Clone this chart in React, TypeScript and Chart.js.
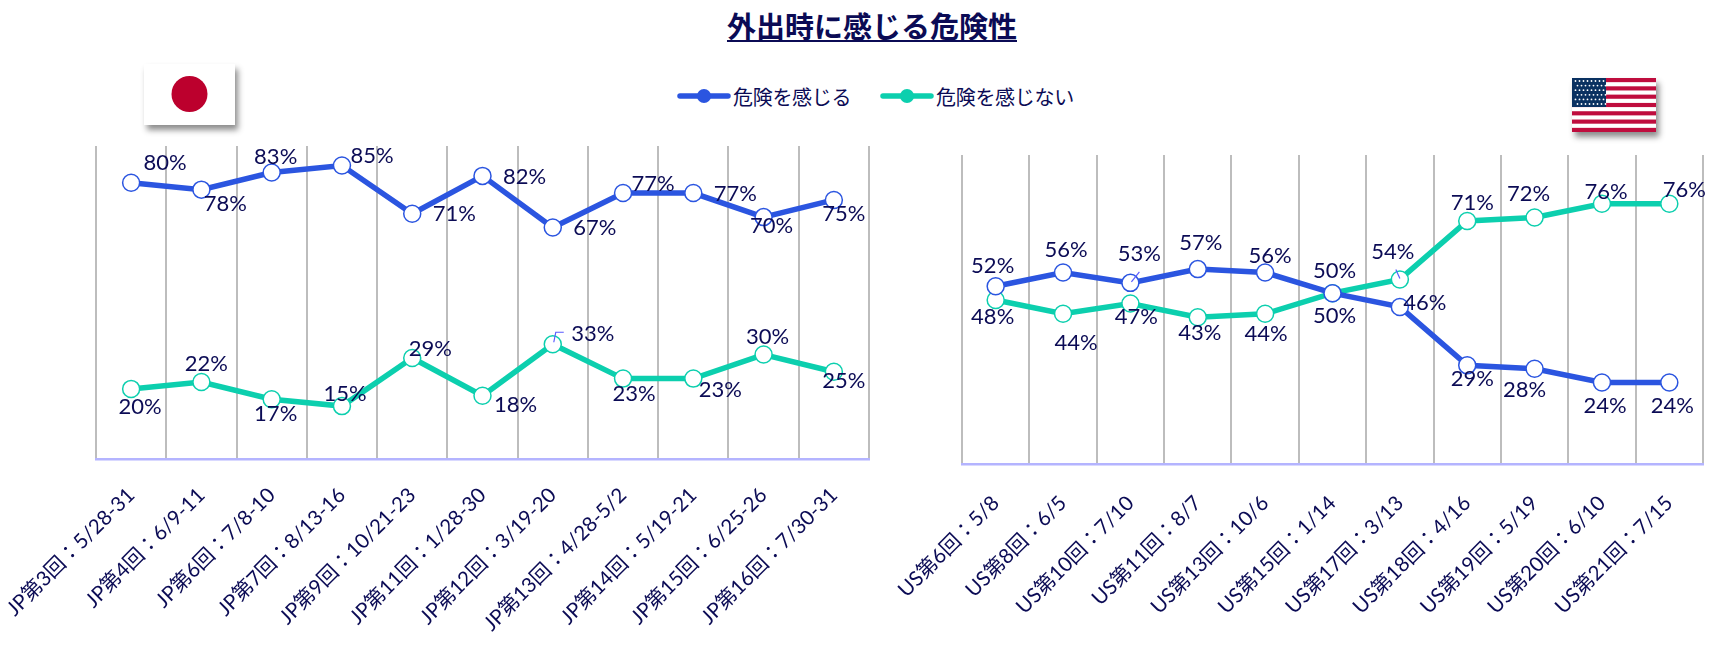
import { useEffect, useRef } from "react";
import { Chart, Plugin, registerables } from "chart.js";

Chart.register(...registerables);

const TEXT = "#0b0b55";
const BLUE = "#2b55e0";
const GREEN = "#0ccfae";
const FONT = 'Lato, "Noto Sans CJK JP", sans-serif';

const seriesNames = ["危険を感じる", "危険を感じない"];

const jpRounds = [
  "JP第3回：5/28-31",
  "JP第4回：6/9-11",
  "JP第6回：7/8-10",
  "JP第7回：8/13-16",
  "JP第9回：10/21-23",
  "JP第11回：1/28-30",
  "JP第12回：3/19-20",
  "JP第13回：4/28-5/2",
  "JP第14回：5/19-21",
  "JP第15回：6/25-26",
  "JP第16回：7/30-31",
];
const jpDanger = [80, 78, 83, 85, 71, 82, 67, 77, 77, 70, 75];
const jpSafe = [20, 22, 17, 15, 29, 18, 33, 23, 23, 30, 25];

const usRounds = [
  "US第6回：5/8",
  "US第8回：6/5",
  "US第10回：7/10",
  "US第11回：8/7",
  "US第13回：10/6",
  "US第15回：1/14",
  "US第17回：3/13",
  "US第18回：4/16",
  "US第19回：5/19",
  "US第20回：6/10",
  "US第21回：7/15",
];
const usDanger = [52, 56, 53, 57, 56, 50, 46, 29, 28, 24, 24];
const usSafe = [48, 44, 47, 43, 44, 50, 54, 71, 72, 76, 76];

// where each value label sits relative to its point [dx, dy]
const jpDangerOffsets = [[34, -20], [24, 14], [4, -16], [30, -10], [42, 0], [42, 1], [42, 0], [30, -9], [42, 1], [8, 9], [10, 14]];
const jpSafeOffsets = [[9, 18], [5, -18], [4, 15], [3, -12], [18, -9], [33, 9], [40, -10], [11, 15], [27, 11], [4, -18], [10, 9]];
const usDangerOffsets = [[-3, -20], [3, -23], [9, -29], [3, -26], [5, -17], [2, -22], [25, -4], [5, 14], [-10, 21], [3, 23], [3, 23]];
const usSafeOffsets = [[-3, 17], [13, 29], [6, 13], [2, 16], [1, 20], [2, 23], [-7, -28], [5, -18], [-6, -24], [4, -12], [15, -14]];

// small leader lines: [dataset, point, polyline relative to the point]
const jpLeaders = [[1, 6, [[1, -2], [3, -12], [11, -12]]]];
const usLeaders = [
  [0, 2, [[1, -1], [9, -11]]],
  [1, 6, [[-4, -10], [0, -1]]],
];

const valueLabels: Plugin<"line"> = {
  id: "valueLabels",
  afterDatasetsDraw(chart, _args, opts: any) {
    const { ctx } = chart;
    ctx.save();
    ctx.strokeStyle = "#5a5aff";
    ctx.lineWidth = 1.2;
    opts.leaders.forEach(([ds, idx, pts]: any) => {
      const p = chart.getDatasetMeta(ds).data[idx];
      ctx.beginPath();
      pts.forEach(([dx, dy]: number[], i: number) => {
        if (i === 0) ctx.moveTo(p.x + dx, p.y + dy);
        else ctx.lineTo(p.x + dx, p.y + dy);
      });
      ctx.stroke();
    });
    ctx.font = "22px " + FONT;
    ctx.fillStyle = TEXT;
    ctx.textAlign = "center";
    ctx.textBaseline = "middle";
    chart.data.datasets.forEach((ds, i) => {
      chart.getDatasetMeta(i).data.forEach((p, j) => {
        const [dx, dy] = opts.offsets[i][j];
        ctx.fillText(ds.data[j] + "%", p.x + dx, p.y + dy);
      });
    });
    ctx.restore();
  },
};

interface PanelProps {
  rounds: string[];
  danger: number[];
  safe: number[];
  offsets: number[][][];
  leaders: any[];
  left: number;
  width: number;
  padLeft: number;
  padRight: number;
  padTop: number;
  axisHeight: number;
  tickGap: number;
  yMin: number;
  yMax: number;
}

function Panel(props: PanelProps) {
  const ref = useRef<HTMLCanvasElement | null>(null);

  useEffect(() => {
    if (!ref.current) return;
    const line = (label: string, data: number[], color: string) => ({
      label,
      data,
      borderColor: color,
      borderWidth: 5.5,
      pointRadius: 8.5,
      pointBorderWidth: 1.5,
      pointBackgroundColor: "#ffffff",
      pointBorderColor: color,
      tension: 0,
    });
    const chart = new Chart(ref.current, {
      type: "line",
      data: {
        labels: props.rounds,
        datasets: [
          line(seriesNames[0], props.danger, BLUE),
          line(seriesNames[1], props.safe, GREEN),
        ],
      },
      plugins: [valueLabels],
      options: {
        responsive: false,
        animation: false,
        devicePixelRatio: 1,
        layout: {
          padding: { left: props.padLeft, right: props.padRight, top: props.padTop, bottom: 0 },
        },
        plugins: {
          legend: { display: false },
          title: { display: false },
          tooltip: { enabled: false },
          valueLabels: { offsets: props.offsets, leaders: props.leaders },
        } as any,
        scales: {
          x: {
            offset: true,
            grid: { color: "#bdbdbd", lineWidth: 2, drawTicks: false, offset: true },
            border: { color: "#b4b4ff", width: 2.5 },
            ticks: {
              color: TEXT,
              font: { family: FONT, size: 20.5 },
              minRotation: 45,
              maxRotation: 45,
              autoSkip: false,
              padding: props.tickGap,
            },
            afterFit: (s: any) => {
              s.height = props.axisHeight;
              s.paddingLeft = 0;
              s.paddingRight = 0;
            },
          },
          y: { display: false, min: props.yMin, max: props.yMax },
        },
      },
    });
    return () => {
      chart.destroy();
    };
  }, []);

  return (
    <canvas
      ref={ref}
      width={props.width}
      height={516}
      style={{ position: "absolute", left: props.left, top: 130, width: props.width, height: 516 }}
    />
  );
}

function LegendItem({ name, color, x }: { name: string; color: string; x: number }) {
  return (
    <div style={{ position: "absolute", left: x, top: 80, height: 32, display: "flex", alignItems: "center" }}>
      <svg width={54} height={16} style={{ marginRight: 2 }}>
        <line x1={3} y1={8} x2={51} y2={8} stroke={color} strokeWidth={5.5} strokeLinecap="round" />
        <circle cx={27} cy={8} r={7} fill={color} />
      </svg>
      <span style={{ fontSize: 20, color: TEXT, letterSpacing: -0.3, whiteSpace: "nowrap" }}>{name}</span>
    </div>
  );
}

function JapanFlag() {
  return (
    <svg width={91} height={61} style={{ position: "absolute", left: 144, top: 64, boxShadow: "3px 5px 6px rgba(0,0,0,0.45)" }}>
      <rect width={91} height={61} fill="#ffffff" />
      <circle cx={45.5} cy={30} r={18} fill="#bc002d" />
    </svg>
  );
}

function UsFlag() {
  const stripes = [0, 1, 2, 3, 4, 5, 6];
  const h = 54 / 13;
  const dots: number[][] = [];
  for (let r = 0; r < 6; r++) {
    for (let c = 0; c < 8; c++) dots.push([3.5 + c * 4 + (r % 2) * 2, 3 + r * 4.6]);
  }
  return (
    <svg width={84} height={54} style={{ position: "absolute", left: 1572, top: 78, boxShadow: "3px 5px 6px rgba(0,0,0,0.45)" }}>
      <rect width={84} height={54} fill="#ffffff" />
      {stripes.map((i) => (
        <rect key={i} y={i * 2 * h} width={84} height={h} fill="#bf0d3e" />
      ))}
      <rect width={34} height={29} fill="#0a3161" />
      {dots.map(([x, y], i) => (
        <circle key={i} cx={x} cy={y} r={0.9} fill="#ffffff" />
      ))}
    </svg>
  );
}

export default function App() {
  useEffect(() => {
    document.body.style.margin = "0";
  }, []);

  return (
    <div style={{ position: "relative", width: 1722, height: 646, overflow: "hidden", background: "#ffffff", fontFamily: FONT }}>
      <div
        style={{
          position: "absolute",
          left: 726,
          top: 4,
          width: 292,
          textAlign: "center",
          fontSize: 29,
          fontWeight: 700,
          color: TEXT,
          whiteSpace: "nowrap",
          textDecoration: "underline",
        }}
      >
        外出時に感じる危険性
      </div>
      <JapanFlag />
      <UsFlag />
      <LegendItem name={seriesNames[0]} color={BLUE} x={677} />
      <LegendItem name={seriesNames[1]} color={GREEN} x={880} />
      <Panel
        rounds={jpRounds}
        danger={jpDanger}
        safe={jpSafe}
        offsets={[jpDangerOffsets, jpSafeOffsets]}
        leaders={jpLeaders}
        left={0}
        width={880}
        padLeft={96}
        padRight={11}
        padTop={16}
        axisHeight={187}
        tickGap={24}
        yMin={-0.4}
        yMax={90.7}
      />
      <Panel
        rounds={usRounds}
        danger={usDanger}
        safe={usSafe}
        offsets={[usDangerOffsets, usSafeOffsets]}
        leaders={usLeaders}
        left={880}
        width={842}
        padLeft={82}
        padRight={19}
        padTop={25}
        axisHeight={182}
        tickGap={27}
        yMin={0.3}
        yMax={90.2}
      />
    </div>
  );
}
